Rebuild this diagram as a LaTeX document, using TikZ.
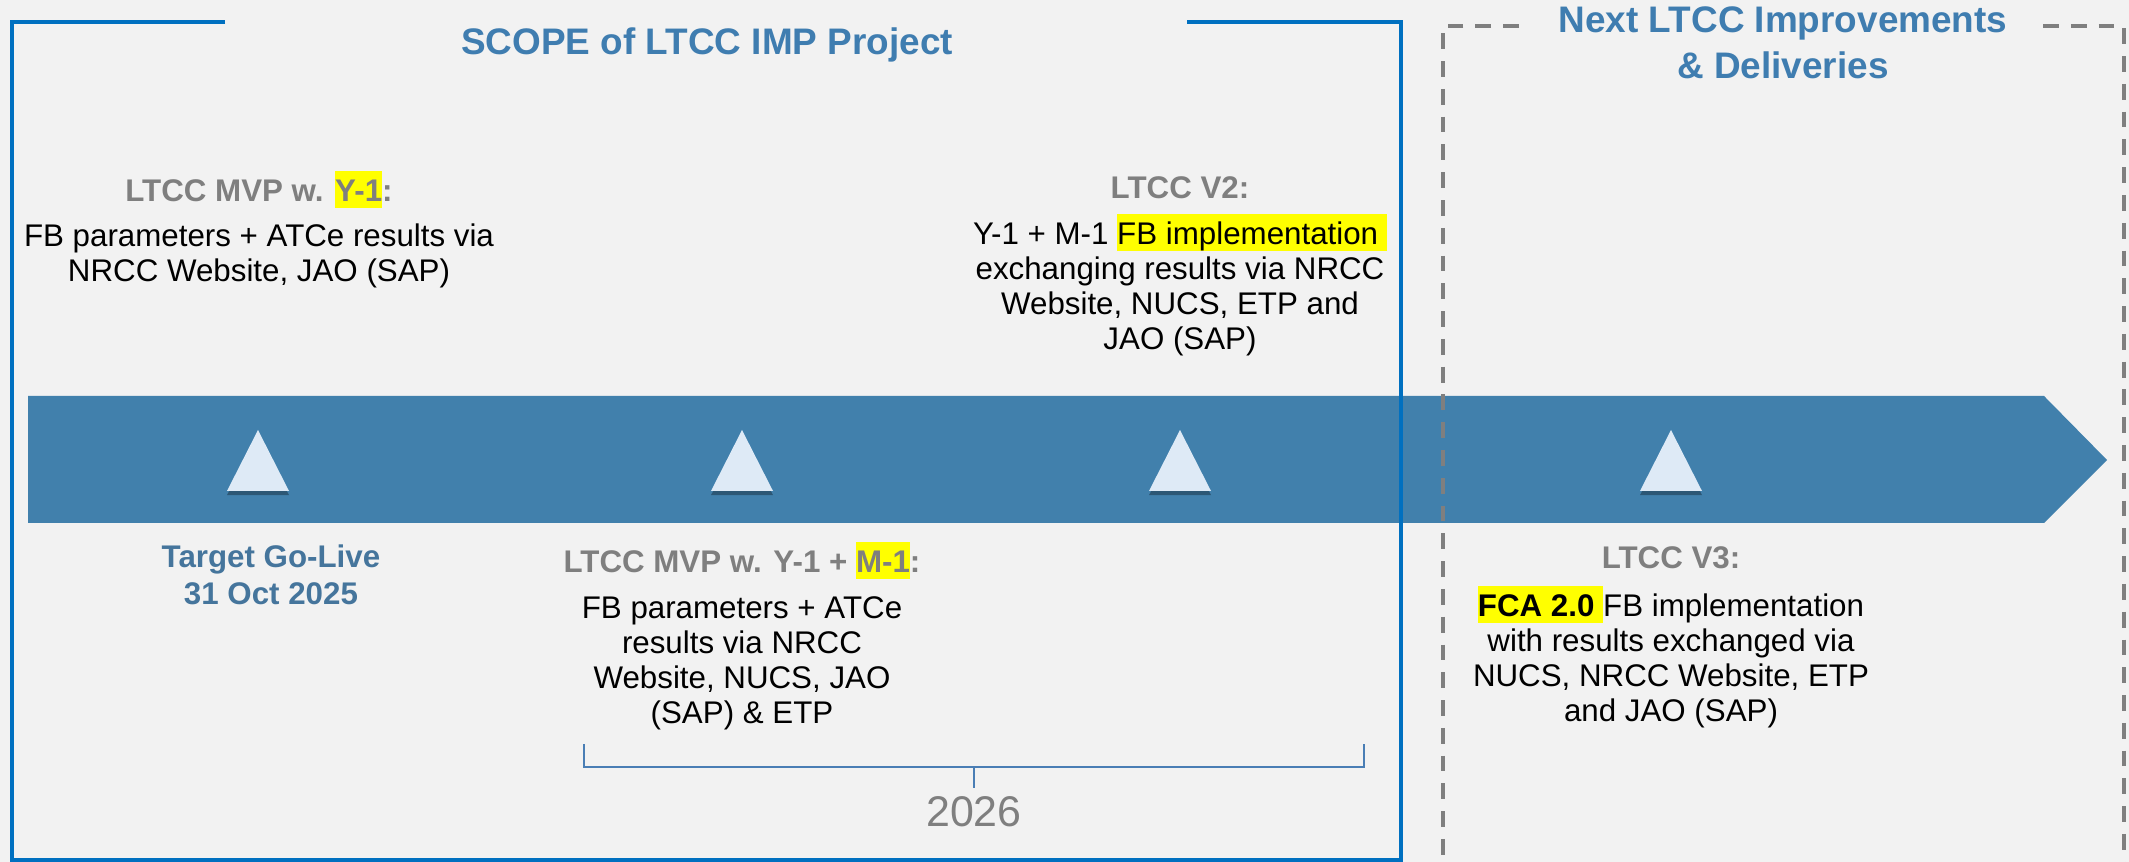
\documentclass[tikz,border=0pt]{standalone}
\usepackage{fontspec}
\setmainfont{Liberation Sans}
\usepackage{tikz}
\usetikzlibrary{shadows}

\definecolor{bg}{HTML}{F2F2F2}
\definecolor{band}{HTML}{4180AC}
\definecolor{tri}{HTML}{DEEAF6}
\definecolor{titleblue}{HTML}{3F7DB0}
\definecolor{golive}{HTML}{45759C}
\definecolor{headgray}{HTML}{7F7F7F}
\definecolor{frameblue}{HTML}{0070C0}
\definecolor{brace}{HTML}{4A7EB5}
\definecolor{hlyellow}{HTML}{FFFF00}

\newcommand{\hl}[1]{{\setlength{\fboxsep}{0pt}\colorbox{hlyellow}{\rule[-0.2em]{0pt}{1.2em}#1}}}

\begin{document}
\begin{tikzpicture}[x=0.01cm, y=-0.01cm,
    title/.style={anchor=base, inner sep=0pt, align=center, text=titleblue,
      font=\bfseries\fontsize{10.5}{13.1}\selectfont},
    head/.style={anchor=base, inner sep=0pt, text=headgray,
      font=\bfseries\fontsize{8.9}{10}\selectfont},
    body/.style={anchor=base, inner sep=0pt, align=center,
      font=\fontsize{8.9}{9.96}\selectfont},
    milestone/.style={fill=tri, drop shadow={shadow xshift=0pt, shadow yshift=-1.2pt, opacity=0.45, fill=black!70!band}}]
  \useasboundingbox (0,0) rectangle (2129,862);
  \fill[bg] (0,0) rectangle (2129,862);

  % timeline arrow
  \fill[band] (28,396) -- (2044,396) -- (2107,460) -- (2044,523) -- (28,523) -- cycle;
  \foreach \x/\n in {258/ms1, 742/ms2, 1180/ms3, 1671/ms4} {
    \coordinate (\n) at (\x,430);
    \fill[milestone] (\n) -- ++(31,61) -- ++(-62,0) -- cycle;
  }

  % project scope frame
  \draw[frameblue, line width=1pt] (225,22) -- (12,22) -- (12,860) -- (1401,860) -- (1401,22) -- (1187,22);
  \node[title] (scope) at (707,55) {SCOPE of LTCC IMP Project};

  % next steps frame
  \draw[headgray, line width=1.15pt, dash pattern=on 4.5pt off 3.4pt]
    (1519,26) -- (1443,26) -- (1443,880)
    (2043,26) -- (2124,26) -- (2124,880);
  % (base of a multi-line node = its last line)
  \node[title] (next) at (1783,79) {Next LTCC Improvements\\\& Deliveries};

  % milestones above
  \node[head] (mvp1) at (259,202) {LTCC MVP w. \hl{Y-1}:};
  \node[body] (mvp1txt) at (259,282) {FB parameters + ATCe results via\\NRCC Website, JAO (SAP)};
  \node[head] (v2) at (1180,199) {LTCC V2:};
  \node[body] (v2txt) at (1180,350) {Y-1 + M-1 \hl{FB implementation }\\exchanging results via NRCC\\Website, NUCS, ETP and\\JAO (SAP)};

  % milestones below
  \node[anchor=base, inner sep=0pt, align=center, text=golive,
    font=\bfseries\fontsize{8.9}{10.8}\selectfont] (golive) at (271,605) {Target Go-Live\\31 Oct 2025};
  \node[head] (mvp2) at (742,573) {LTCC MVP w. Y-1 + \hl{M-1}:};
  \node[body] (mvp2txt) at (742,724) {FB parameters + ATCe\\results via NRCC\\Website, NUCS, JAO\\(SAP) \& ETP};
  \node[head] (v3) at (1671,569) {LTCC V3:};
  \node[body] (v3txt) at (1671,722) {\hl{\textbf{FCA 2.0} }FB implementation\\with results exchanged via\\NUCS, NRCC Website, ETP\\and JAO (SAP)};

  % year bracket
  \coordinate (brl) at (584,744);
  \coordinate (brr) at (1364,744);
  \coordinate (brm) at (974,767);
  \node[anchor=base, inner sep=0pt, text=headgray, font=\fontsize{12.2}{14}\selectfont] (year) at (974,827) {2026};
  \draw[brace, line width=0.6pt] (brl) -- (brl |- brm) -- (brr |- brm) -- (brr);
  \draw[brace, line width=0.6pt] (brm) -- ++(0,21);
\end{tikzpicture}
\end{document}
